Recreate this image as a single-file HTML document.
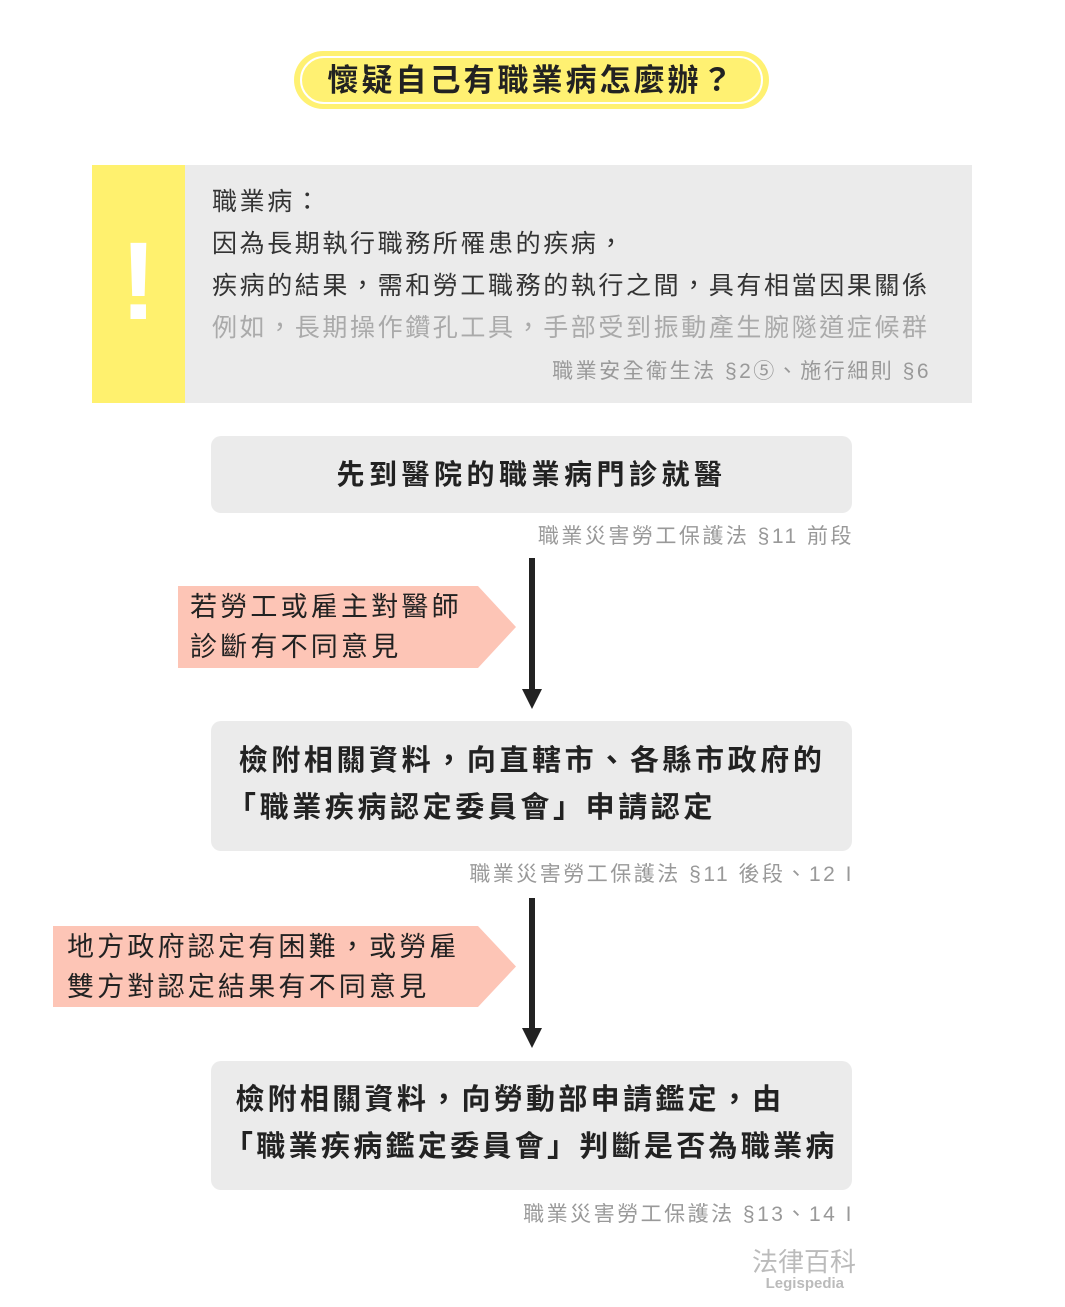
<!DOCTYPE html>
<html><head><meta charset="utf-8"><style>
body{margin:0;width:1065px;height:1307px;background:#fff;position:relative;font-family:"Liberation Sans","Noto Sans CJK TC",sans-serif;overflow:hidden}
.a{position:absolute}
.box{position:absolute;background:#ebebeb;border-radius:10px;left:211px;width:641px;color:#222;font-weight:bold}
.cite{position:absolute;right:211px;font-size:21px;color:#999;white-space:nowrap;letter-spacing:2.5px}
.pink{position:absolute;background:#fdc5b6;color:#222;font-size:27px;line-height:40px;letter-spacing:3.2px;white-space:nowrap;clip-path:polygon(0 0,300px 0,100% 50%,300px 100%,0 100%)}
.arr{position:absolute;left:529px;width:6px;background:#222}
.head{position:absolute;left:522px;width:0;height:0;border-left:10px solid transparent;border-right:10px solid transparent;border-top:20px solid #222}
</style></head><body>
<div class="a" style="left:294px;top:51px;width:475px;height:58px;background:#fff172;border-radius:29px"></div>
<div class="a" style="left:300px;top:56px;width:459px;height:44px;border:2px solid #fff;border-radius:24px;text-align:center;line-height:46px;font-size:31px;font-weight:bold;color:#222;letter-spacing:3px;white-space:nowrap">懷疑自己有職業病怎麼辦？</div>

<div class="a" style="left:92px;top:165px;width:93px;height:238px;background:#fff16e"></div>
<div class="a" style="left:92px;top:222px;width:93px;text-align:center;font-size:110px;font-weight:bold;color:#fff;line-height:120px;font-family:'Liberation Sans',sans-serif">!</div>
<div class="a" style="left:185px;top:165px;width:787px;height:238px;background:#ebebeb"></div>
<div class="a" style="left:212px;top:181px;font-size:25px;line-height:42px;color:#333;white-space:nowrap;letter-spacing:2.6px">職業病：<br>因為長期執行職務所罹患的疾病，<br>疾病的結果，需和勞工職務的執行之間，具有相當因果關係<br><span style="color:#aaa">例如，長期操作鑽孔工具，手部受到振動產生腕隧道症候群</span></div>
<div class="cite" style="top:355px;right:134px">職業安全衛生法 §2⑤、施行細則 §6</div>

<div class="box" style="top:436px;height:77px;text-align:center;line-height:77px;font-size:28px;letter-spacing:4.5px">先到醫院的職業病門診就醫</div>
<div class="cite" style="top:520px">職業災害勞工保護法 §11 前段</div>

<div class="arr" style="top:558px;height:134px"></div><div class="head" style="top:689px"></div>
<div class="pink" style="left:178px;top:586px;width:338px;height:82px;"><div style="padding:1px 0 0 12px">若勞工或雇主對醫師<br>診斷有不同意見</div></div>

<div class="box" style="top:721px;height:130px;font-size:29px;line-height:47px;letter-spacing:3.6px"><div style="padding:17px 0 0 16px;white-space:nowrap">&nbsp;檢附相關資料，向直轄市、各縣市政府的<br>「職業疾病認定委員會」申請認定</div></div>
<div class="cite" style="top:858px">職業災害勞工保護法 §11 後段、12 I</div>

<div class="arr" style="top:898px;height:133px"></div><div class="head" style="top:1028px"></div>
<div class="pink" style="left:53px;top:926px;width:463px;height:81px;clip-path:polygon(0 0,425px 0,100% 50%,425px 100%,0 100%)"><div style="padding:1px 0 0 14px">地方政府認定有困難，或勞雇<br>雙方對認定結果有不同意見</div></div>

<div class="box" style="top:1061px;height:129px;font-size:29px;line-height:47px;letter-spacing:3.3px"><div style="padding:16px 0 0 13px;white-space:nowrap">&nbsp;檢附相關資料，向勞動部申請鑑定，由<br>「職業疾病鑑定委員會」判斷是否為職業病</div></div>
<div class="cite" style="top:1198px">職業災害勞工保護法 §13、14 I</div>

<div class="a" style="left:656px;top:1242px;font-size:26px;color:#bbb;width:200px;text-align:right;white-space:nowrap">法律百科</div>
<div class="a" style="left:656px;top:1275px;font-size:15px;font-weight:bold;color:#bbb;width:188px;text-align:right;white-space:nowrap">Legispedia</div>
</body></html>
